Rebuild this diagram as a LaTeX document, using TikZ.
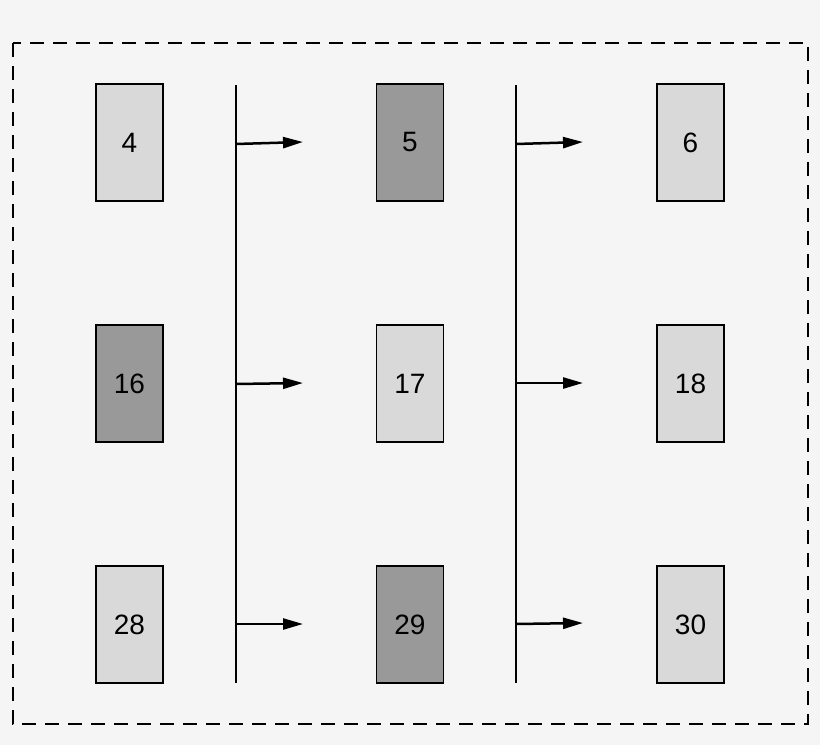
\documentclass[tikz,border=0pt]{standalone}
\usepackage{fontspec}
\setmainfont{Liberation Sans}
\usetikzlibrary{arrows.meta}
\definecolor{bg}{HTML}{F5F5F5}
\definecolor{lightbox}{HTML}{D9D9D9}
\definecolor{darkbox}{HTML}{999999}
\begin{document}
\begin{tikzpicture}[x=1pt,y=-1pt,
  cell/.style={draw=black,line width=1.5pt,minimum width=67pt,minimum height=117pt,inner sep=0pt,font=\fontsize{28}{30}\selectfont},
  lt/.style={cell,fill=lightbox},
  dk/.style={cell,fill=darkbox},
  arr/.style={line width=2.5pt,-{Triangle[length=20pt,width=11pt]}},
  bar/.style={line width=2.5pt}]
\fill[bg] (0,0) rectangle (820,745);
\useasboundingbox (0,0) rectangle (820,745);
\draw[line width=2.5pt,dash pattern=on 14pt off 9pt] (13,43) rectangle (808,724);
\node[lt] (n4) at (129.5,142.5) {4};
\node[dk] (n5) at (410,142.5) {5};
\node[lt] (n6) at (690.5,142.5) {6};
\node[dk] (n16) at (129.5,383.5) {16};
\node[lt] (n17) at (410,383.5) {17};
\node[lt] (n18) at (690.5,383.5) {18};
\node[lt] (n28) at (129.5,624.5) {28};
\node[dk] (n29) at (410,624.5) {29};
\node[lt] (n30) at (690.5,624.5) {30};
\coordinate (l1t) at (236,85); \coordinate (l1b) at (236,683);
\coordinate (l2t) at (516,85); \coordinate (l2b) at (516,683);
\draw[bar] (l1t) -- (l1b);
\draw[bar] (l2t) -- (l2b);
\coordinate (a1) at (236,144); \coordinate (b1) at (303,142);
\coordinate (a2) at (236,384); \coordinate (b2) at (303,383);
\coordinate (a3) at (236,624); \coordinate (b3) at (303,624);
\coordinate (c1) at (516,144); \coordinate (d1) at (583,142);
\coordinate (c2) at (516,383); \coordinate (d2) at (583,383);
\coordinate (c3) at (516,624); \coordinate (d3) at (583,623);
\foreach \s/\e in {a1/b1,a2/b2,a3/b3,c1/d1,c2/d2,c3/d3} \draw[arr] (\s) -- (\e);
\end{tikzpicture}
\end{document}
